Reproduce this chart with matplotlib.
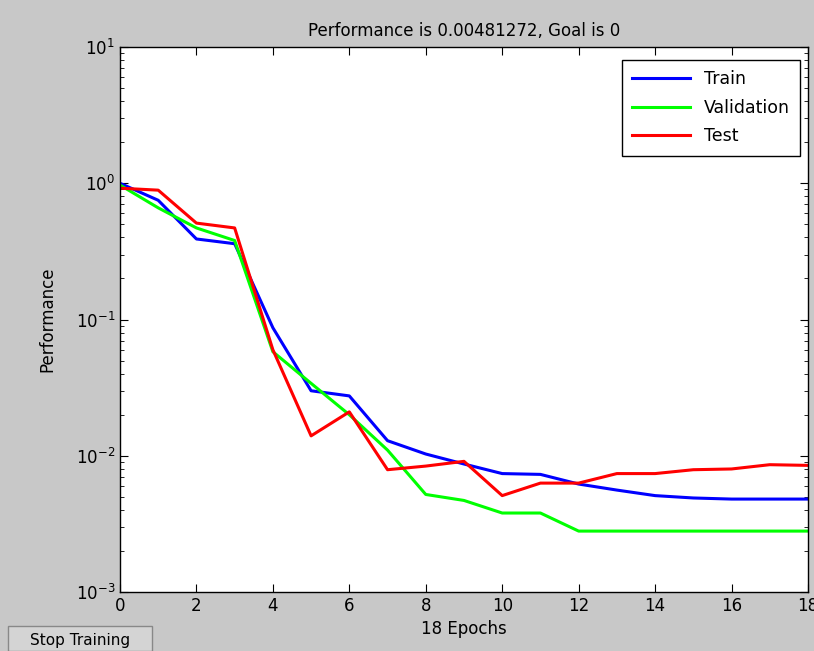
"""
Training performance plot (MATLAB nntool style)
"""
import matplotlib
matplotlib.use('Agg')
import matplotlib.pyplot as plt
from matplotlib.patches import Rectangle

epochs = list(range(0, 19))
train = [1.0, 0.75, 0.39, 0.36, 0.087, 0.030, 0.0275, 0.0129, 0.0103, 0.0087,
         0.0074, 0.0073, 0.0062, 0.0056, 0.0051, 0.0049, 0.00481, 0.00481, 0.00481]
validation = [0.97, 0.66, 0.47, 0.38, 0.058, 0.034, 0.020, 0.011, 0.0052, 0.0047,
              0.0038, 0.0038, 0.0028, 0.0028, 0.0028, 0.0028, 0.0028, 0.0028, 0.0028]
test = [0.92, 0.89, 0.51, 0.47, 0.060, 0.014, 0.021, 0.0079, 0.0084, 0.0091,
        0.0051, 0.0063, 0.0063, 0.0074, 0.0074, 0.0079, 0.0080, 0.0086, 0.0085]
series_names = ['Train', 'Validation', 'Test']
title_text = 'Performance is 0.00481272, Goal is 0'

BG = '#c8c8c8'
fig = plt.figure(figsize=(8.14, 6.51), dpi=100, facecolor=BG)
ax = fig.add_axes([0.1474, 0.0906, 0.8452, 0.8372])

ax.semilogy(epochs, train, color='#0000ff', lw=2.2, label=series_names[0])
ax.semilogy(epochs, validation, color='#00ff00', lw=2.2, label=series_names[1])
ax.semilogy(epochs, test, color='#ff0000', lw=2.2, label=series_names[2])

ax.set_xlim(0, 18)
ax.set_ylim(1e-3, 1e1)
ax.set_xticks(range(0, 19, 2))
ax.tick_params(which='both', direction='in', top=True, right=True, labelsize=12)
ax.tick_params(which='major', length=6)
ax.tick_params(which='minor', length=3)
for s in ax.spines.values():
    s.set_linewidth(1.0)

ax.set_title(title_text, fontsize=12, pad=8)
ax.set_xlabel('18 Epochs', fontsize=12, labelpad=4)
ax.set_ylabel('Performance', fontsize=12, labelpad=14)

leg = ax.legend(loc='upper right', fontsize=12.5, fancybox=False, framealpha=1,
                edgecolor='black', handlelength=3.3, borderpad=0.6,
                labelspacing=0.6, borderaxespad=0,
                bbox_to_anchor=(0.9884, 0.976))
leg.get_frame().set_linewidth(1.0)

# "Stop Training" button
btn = Rectangle((8 / 814, 0), 144 / 814, 25 / 651, transform=fig.transFigure,
                facecolor='#d4d4d4', edgecolor='#888888', lw=1.0)
fig.patches.append(btn)
fig.text(80 / 814, 11 / 651, 'Stop Training', ha='center', va='center', fontsize=11)

fig.savefig('out.png', dpi=100, facecolor=BG)
